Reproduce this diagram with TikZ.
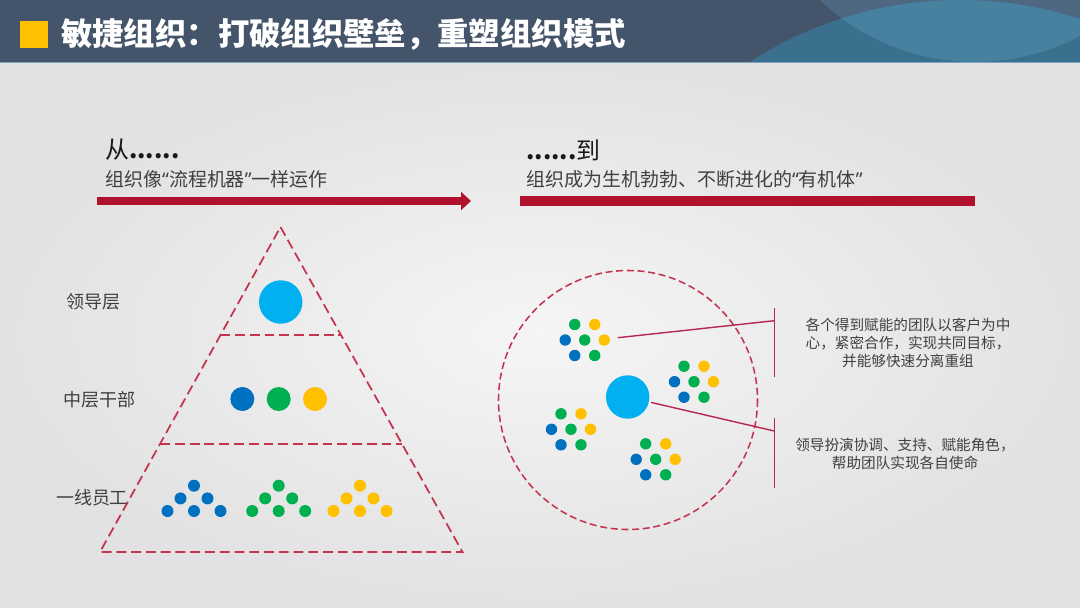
\documentclass[tikz,border=0pt]{standalone}
\usepackage{fontspec}
\setmainfont{Noto Sans CJK SC}
\newfontfamily\quotefont{Noto Sans}
\usetikzlibrary{arrows.meta,calc}

\definecolor{hdrslate}{RGB}{68,84,106}
\definecolor{hdrteal}{RGB}{58,112,142}
\definecolor{hdrmist}{RGB}{78,104,130}
\definecolor{hdrlight}{RGB}{70,130,160}
\definecolor{hdrline}{RGB}{125,165,195}
\definecolor{titleyellow}{RGB}{255,192,0}
\definecolor{crimson}{RGB}{176,18,46}
\definecolor{dashred}{RGB}{196,52,78}
\definecolor{leadred}{RGB}{182,40,78}
\definecolor{leadcyan}{RGB}{0,176,240}
\definecolor{dotblue}{RGB}{0,112,192}
\definecolor{dotgreen}{RGB}{0,176,80}
\definecolor{dotyellow}{RGB}{255,192,0}
\definecolor{bodytext}{RGB}{64,64,64}

\newcommand{\oq}{{\quotefont “}}
\newcommand{\cq}{{\quotefont ”}}

\tikzset{
  px/.style={x=0.025cm, y=-0.025cm},
  dashline/.style={draw=dashred, line width=1.25pt, dash pattern=on 7pt off 3.5pt},
  leader/.style={draw=leadred, line width=1pt},
  layerlabel/.style={text=bodytext, inner sep=0pt, font=\fontsize{12.8}{15}\selectfont},
  heading/.style={anchor=west, inner sep=0pt, text=black!90, font=\fontsize{17}{19}\selectfont},
  subheading/.style={anchor=west, inner sep=0pt, text=bodytext, font=\fontsize{13.5}{16}\selectfont},
  note/.style={align=center, inner sep=0pt, text=bodytext, font=\fontsize{10.4}{12.8}\selectfont},
  hub/.style={circle, fill=leadcyan, inner sep=0pt, minimum size=1.085cm},
}

\begin{document}
\begin{tikzpicture}[px]
    \useasboundingbox (0,0) rectangle (1080,607);
    % Background
    \shade[inner color={rgb,255:red,245;green,245;blue,245}, outer color={rgb,255:red,226;green,226;blue,226}]
        (0,62) rectangle (1080,607);
    % Header bar
    \fill[hdrslate] (0,0) rectangle (1080,62);
    \begin{scope}
        \clip (0,0) rectangle (1080,62);
        \fill[hdrteal] (960,387) circle (387);
        \fill[hdrmist] (975,-163) circle (225);
        \clip (960,387) circle (387);
        \fill[hdrlight] (975,-163) circle (225);
    \end{scope}
    \draw[hdrline, line width=1.1pt] (0,62.5) -- (1080,62.5);
    \fill[titleyellow] (19.5,20.5) rectangle (47.5,48);
    \node[anchor=west, inner sep=0pt, text=white, font=\fontsize{22.3}{24}\selectfont\bfseries]
        (title) at (61,34) {敏捷组织：打破组织壁垒，重塑组织模式};

    % From ... to ...
    \node[heading] (from) at (105,150) {从\textbf{......}};
    \node[subheading] (fromsub) at (105,179) {组织像\oq 流程机器\cq 一样运作};
    \node[heading] (to) at (526,150) {\textbf{......}到};
    \node[subheading] (tosub) at (526,179) {组织成为生机勃勃、不断进化的\oq 有机体\cq};
    \coordinate (a1) at (97,201);
    \coordinate (a2) at (471,201);
    \draw[crimson, line width=5.2pt, -{Triangle[length=7pt, width=12.5pt]}] (a1) -- (a2);
    \coordinate (b1) at (520,201);
    \coordinate (b2) at (975,201);
    \draw[crimson, line width=7pt] (b1) -- (b2);

    % Pyramid
    \coordinate (apex) at (280.5,227);
    \coordinate (bl) at (100,552);
    \coordinate (br) at (462.5,552);
    \draw[dashline] (apex) -- (br) -- (bl) -- cycle;
    \draw[dashline] ($(apex)!1/3!(bl)$) -- ($(apex)!1/3!(br)$);
    \draw[dashline] ($(apex)!2/3!(bl)$) -- ($(apex)!2/3!(br)$);
    \node[layerlabel] (lead) at (93.3,302) {领导层};
    \node[layerlabel] (mid) at (99.3,400) {中层干部};
    \node[layerlabel] (staff) at (92,498) {一线员工};
    \fill[leadcyan] (280.7,302) circle (21.7);
    \foreach \x/\col in {242.3/dotblue, 278.7/dotgreen, 315/dotyellow}
        \fill[\col] (\x,399) circle (12);
    \foreach \x/\col in {194/dotblue, 278.7/dotgreen, 360/dotyellow}
        \foreach \dx/\dy in {0/0, -13.5/12.7, 13.5/12.7, -26.5/25.3, 0/25.3, 26.5/25.3}
            \fill[\col] (\x+\dx,485.7+\dy) circle (6);

    % Organism
    \draw[draw=dashred, line width=1.1pt, dash pattern=on 5pt off 2.6pt] (628,400) circle (129.5);
    \node[hub] (hub) at (627.7,397) {};
    \foreach \cx/\cy [count=\i] in {584.7/340, 694/381.7, 571/429.3, 655.7/459.3} {
        \coordinate (team\i) at (\cx,\cy);
        \foreach \dx/\dy/\col in {-10/-15.5/dotgreen, 10/-15.5/dotyellow, -19.5/0/dotblue, 0/0/dotgreen,
                                  19.5/0/dotyellow, -10/15.5/dotblue, 10/15.5/dotgreen}
            \fill[\col] (\cx+\dx,\cy+\dy) circle (5.7);
    }
    % Leaders and brackets
    \coordinate (l1) at (617.7,337.7);
    \coordinate (j1) at (774.3,320.7);
    \coordinate (j2) at (774.3,431);
    \coordinate (k1t) at (774.3,308.3);
    \coordinate (k1b) at (774.3,376.7);
    \coordinate (k2t) at (774.3,418.3);
    \coordinate (k2b) at (774.3,487.7);
    \draw[leader] (l1) -- (j1);
    \draw[leader, shorten <=1.5pt] (hub) -- (j2);
    \draw[leader] (k1t) -- (k1b);
    \draw[leader] (k2t) -- (k2b);
    \node[note] (teamnote) at (908,343) {各个得到赋能的团队以客户为中\\心，紧密合作，实现共同目标，\\并能够快速分离重组};
    \node[note] (leadnote) at (905,454) {领导扮演协调、支持、赋能角色，\\帮助团队实现各自使命};
\end{tikzpicture}
\end{document}
